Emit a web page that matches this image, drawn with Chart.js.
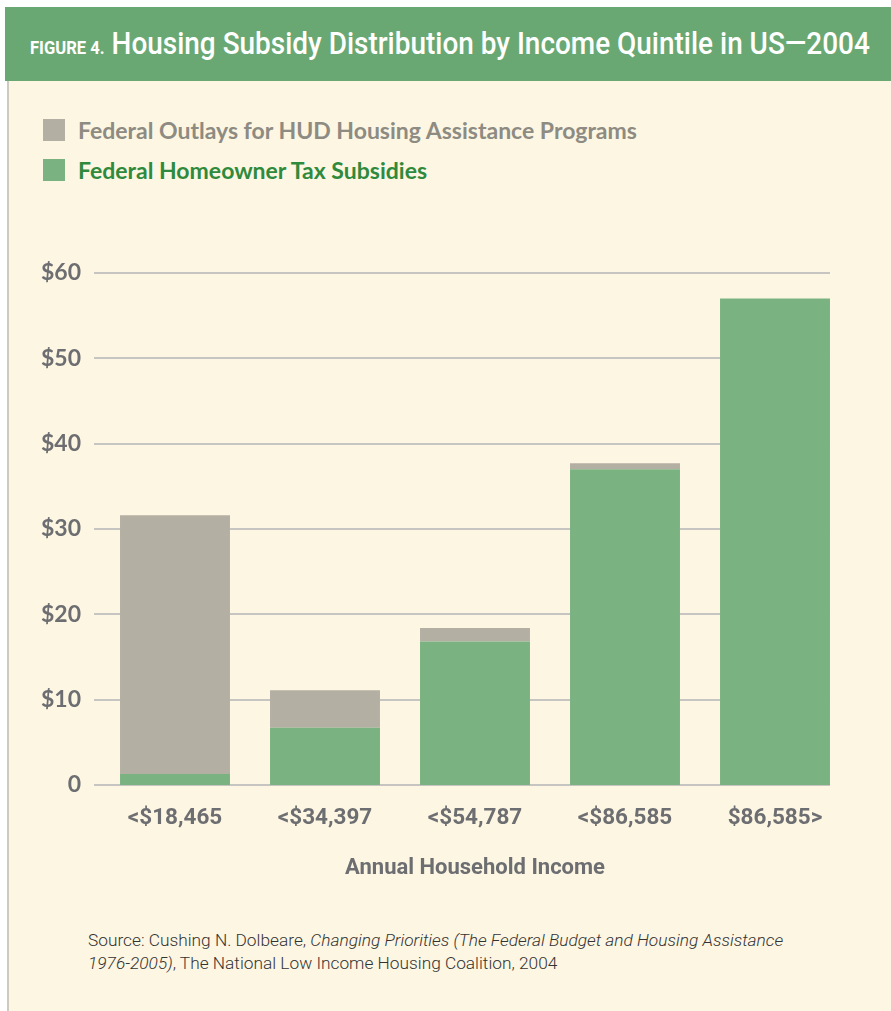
<!DOCTYPE html>
<html>
<head>
<meta charset="utf-8">
<script src="https://cdn.jsdelivr.net/npm/chart.js@4.4.1/dist/chart.umd.min.js"></script>
<style>
  body { margin: 0; background: #fff; }
  #page { position: relative; width: 891px; height: 1011px; background: #fff; overflow: hidden; }
  #header { position: absolute; left: 5px; top: 7px; width: 886px; height: 74px; background: #6aa873; }
  #title { position: absolute; left: 30px; top: 24px; color: #fff; white-space: nowrap; transform-origin: 0 0;
           font-family: Roboto, sans-serif; font-weight: 500; font-size: 32px; }
  #title small { font-size: 19px; font-weight: bold; }
  #body { position: absolute; left: 7px; top: 81px; right: 0; bottom: 0; background: #fdf6e2;
          border-left: 2px solid #cdcac0; }
  #legend { position: absolute; left: 43px; top: 119px; font-family: Lato, 'Open Sans', sans-serif;
            font-weight: bold; font-size: 23px; }
  .item { height: 40px; display: flex; align-items: flex-start; }
  .box { width: 22px; height: 22px; margin-right: 13px; }
  .item span { line-height: 22px; }
  #chart { position: absolute; left: 0; top: 240px; }
  #source { position: absolute; left: 88px; top: 929px; color: #333; font-size: 17.3px; line-height: 23px;
            font-family: Roboto, sans-serif; font-weight: 300; }
</style>
</head>
<body>
<div id="page">
  <div id="header"></div>
  <div id="title"><small>FIGURE 4.</small> Housing Subsidy Distribution by Income Quintile in US—2004</div>
  <div id="body"></div>
  <div id="legend"></div>
  <canvas id="chart" width="891" height="660"></canvas>
  <div id="source">Source: Cushing N. Dolbeare, <i>Changing Priorities (The Federal Budget and Housing Assistance<br>1976-2005)</i>, The National Low Income Housing Coalition, 2004</div>
</div>
<script>
// values (billions of dollars)
const categories = ['<$18,465', '<$34,397', '<$54,787', '<$86,585', '$86,585>'];
const taxSubsidies = [1.3, 6.7, 16.8, 37.0, 57.0];
const hudOutlays = [30.3, 4.4, 1.6, 0.7, 0];
const yTicks = [0, 10, 20, 30, 40, 50, 60];

const axisGray = '#6d6e71';
const narrow = 'Roboto, sans-serif';

const series = [
  { label: 'Federal Outlays for HUD Housing Assistance Programs', data: hudOutlays, color: '#b3afa3', text: '#8d8b82' },
  { label: 'Federal Homeowner Tax Subsidies', data: taxSubsidies, color: '#7bb281', text: '#2f8a3d' }
];

// squeeze the title to the width of the printed (condensed) one
const title = document.getElementById('title');
title.style.transform = 'scaleX(' + (840 / title.offsetWidth) + ')';

// legend (one item per line, like the original)
const legend = document.getElementById('legend');
series.forEach(s => {
  const row = document.createElement('div');
  row.className = 'item';
  row.innerHTML = `<div class="box" style="background:${s.color}"></div><span style="color:${s.text}">${s.label}</span>`;
  legend.appendChild(row);
});

// grid lines that stop short like the printed figure
const shortGrid = {
  id: 'shortGrid',
  beforeDatasetsDraw(chart) {
    const { ctx, chartArea, scales: { y } } = chart;
    ctx.save();
    ctx.strokeStyle = '#c6c5c1';
    ctx.lineWidth = 2;
    yTicks.forEach(v => {
      const py = Math.round(y.getPixelForValue(v));
      ctx.beginPath();
      ctx.moveTo(94, py);
      ctx.lineTo(chartArea.right - 20, py);
      ctx.stroke();
    });
    ctx.restore();
  }
};

new Chart(document.getElementById('chart'), {
  type: 'bar',
  data: {
    labels: categories,
    // tax subsidies sit at the bottom of each stack
    datasets: [series[1], series[0]].map(s => ({
      label: s.label,
      data: s.data,
      backgroundColor: s.color,
      borderWidth: 0,
      categoryPercentage: 0.733,
      barPercentage: 1.0
    }))
  },
  options: {
    responsive: false,
    animation: false,
    layout: { padding: { top: 31, right: 41, bottom: 0, left: 0 } },
    plugins: { legend: { display: false }, tooltip: { enabled: false } },
    scales: {
      x: {
        stacked: true,
        grid: { display: false },
        border: { display: false },
        ticks: { color: axisGray, padding: 12, font: { family: narrow, size: 22.5, weight: 'bold' } },
        title: {
          display: true, text: 'Annual Household Income', color: axisGray,
          font: { family: narrow, size: 22, weight: 'bold' }, padding: { top: 0, bottom: 18 }
        },
        afterFit: s => { s.height = 115; }
      },
      y: {
        stacked: true,
        min: 0, max: 60,
        grid: { display: false, drawTicks: false },
        border: { display: false },
        ticks: {
          stepSize: 10, padding: 19, color: axisGray,
          font: { family: 'Lato, "Open Sans", sans-serif', size: 23, weight: 'bold' },
          callback: v => v === 0 ? '0' : '$' + v
        },
        afterFit: s => { s.width = 100; }
      }
    }
  },
  plugins: [shortGrid]
});
</script>
</body>
</html>
